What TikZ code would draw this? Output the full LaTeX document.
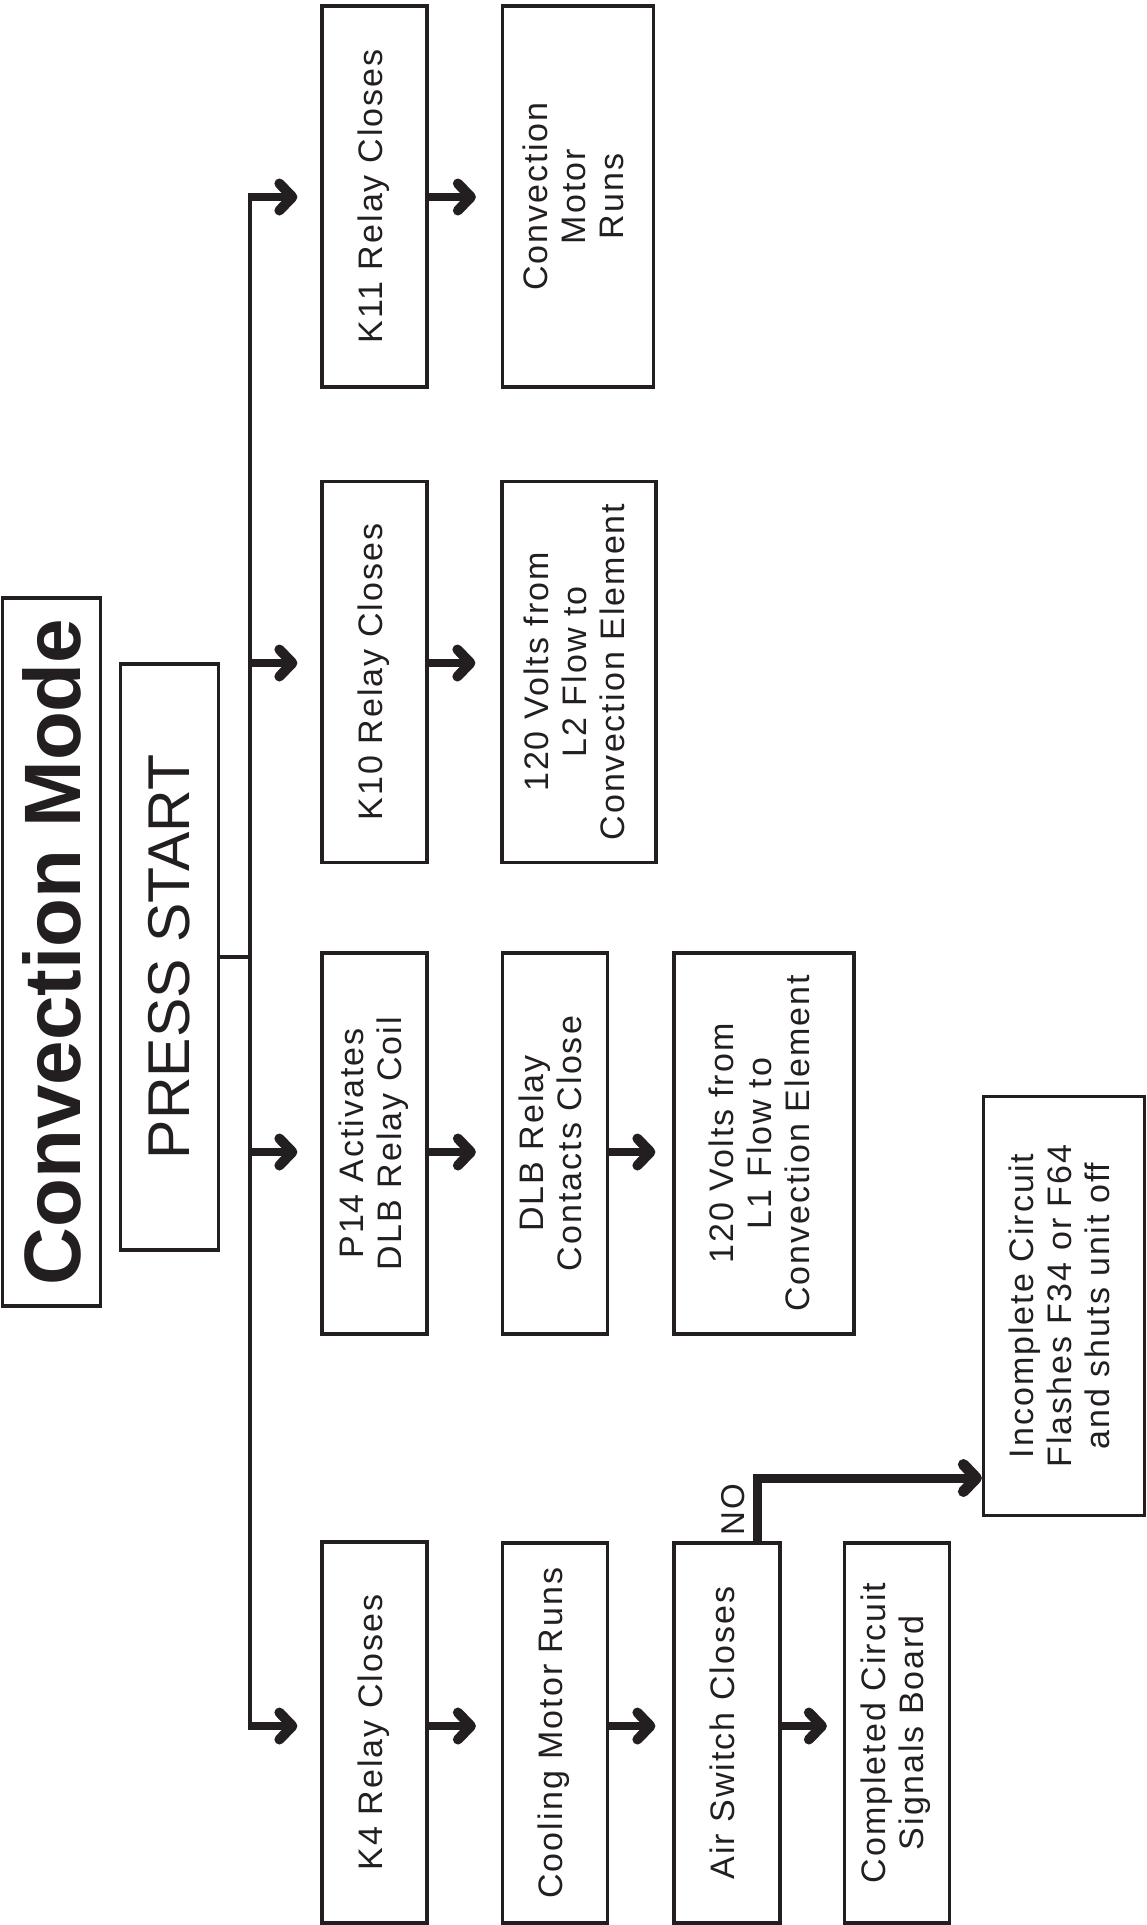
\documentclass[tikz,border=0pt]{standalone}
\usepackage{fontspec}
\setmainfont{Liberation Sans}[LetterSpace=6]
\newfontfamily\plainfont{Liberation Sans}
\usetikzlibrary{arrows.meta}
\definecolor{ink}{HTML}{231F20}
\newcommand\rottext[1]{\rotatebox{90}{\begin{tabular}{@{}c@{}}#1\end{tabular}}}
\tikzset{
  box/.style={draw=ink, line width=3.2pt, inner sep=0pt, text=ink,
    font=\fontsize{34}{38}\selectfont},
  arr/.style={draw=ink, line width=8pt, -{Straight Barb[length=13pt,width=27pt,line width=2pt 1,round]}},
  trunk/.style={draw=ink, line width=4pt}
}
\begin{document}
\begin{tikzpicture}[x=1pt,y=-1pt]
\useasboundingbox (0,0) rectangle (1146,1925);
% title and start
\node[box, minimum width=98pt, minimum height=708pt] (title) at (51.6,952)
  {\rotatebox{90}{\plainfont\bfseries\fontsize{80}{90}\selectfont Convection Mode}};
\node[box, minimum width=98pt, minimum height=586pt] (press) at (169.5,957)
  {\rotatebox{90}{\plainfont\fontsize{59}{66}\selectfont PRESS START}};
% column 1
\node[box, minimum width=105pt, minimum height=381pt] (k11) at (374.5,196.5) {\rottext{K11 Relay Closes}};
\node[box, minimum width=105pt, minimum height=381pt] (k10) at (374.5,672) {\rottext{K10 Relay Closes}};
\node[box, minimum width=105pt, minimum height=381pt] (p14) at (374.5,1143.5) {\rottext{P14 Activates\\DLB Relay Coil}};
\node[box, minimum width=105pt, minimum height=381pt] (k4) at (374.5,1732.5) {\rottext{K4 Relay Closes}};
% column 2
\node[box, minimum width=151pt, minimum height=381pt] (cmr) at (578,196.5) {\rottext{Convection\\Motor\\Runs}};
\node[box, minimum width=154pt, minimum height=381pt] (l2) at (579,672) {\rottext{120 Volts from\\L2 Flow to\\Convection Element}};
\node[box, minimum width=105pt, minimum height=381pt] (dlb) at (555,1143.5) {\rottext{DLB Relay\\Contacts Close}};
\node[box, minimum width=105pt, minimum height=380pt] (cool) at (555,1733) {\rottext{Cooling Motor Runs}};
% column 3
\node[box, minimum width=180pt, minimum height=381pt] (l1) at (764,1143.5) {\rottext{120 Volts from\\L1 Flow to\\Convection Element}};
\node[box, minimum width=106pt, minimum height=380pt] (air) at (727,1733) {\rottext{Air Switch Closes}};
% column 4
\node[box, minimum width=105pt, minimum height=380pt] (comp) at (897,1733) {\rottext{Completed Circuit\\Signals Board}};
\node[box, minimum width=161pt, minimum height=419pt] (inc) at (1064,1306) {\rottext{Incomplete Circuit\\Flashes F34 or F64\\and shuts unit off}};
% trunk
\coordinate (j) at (250,957);
\coordinate (a1) at (250,197);
\coordinate (a2) at (250,663);
\coordinate (a3) at (250,1152);
\coordinate (a4) at (250,1726);
\draw[trunk] (press.east |- j) -- (j);
\draw[trunk] (a1) -- (a4);
\draw[arr, shorten >=23pt] ([xshift=-2pt]a1) -- (k11.west |- a1);
\draw[arr, shorten >=23pt] (a2) -- (k10.west |- a2);
\draw[arr, shorten >=23pt] (a3) -- (p14.west |- a3);
\draw[arr, shorten >=23pt] ([xshift=-2pt]a4) -- (k4.west |- a4);
% row arrows
\draw[arr, shorten >=25pt] (k11.east |- a1) -- (cmr.west |- a1);
\draw[arr, shorten >=25pt] (k10.east |- a2) -- (l2.west |- a2);
\draw[arr, shorten >=25pt] (p14.east |- a3) -- (dlb.west |- a3);
\draw[arr, shorten >=17pt] (dlb.east |- a3) -- (l1.west |- a3);
\draw[arr, shorten >=25pt] (k4.east |- a4) -- (cool.west |- a4);
\draw[arr, shorten >=17pt] (cool.east |- a4) -- (air.west |- a4);
\draw[arr, shorten >=16pt] (air.east |- a4) -- (comp.west |- a4);
% NO branch
\coordinate (nc) at (757,1478);
\draw[arr, line width=9pt] (air.north -| nc) -- (nc) -- (inc.west |- nc);
\node[text=ink, rotate=90, font=\fontsize{33}{36}\selectfont] (no) at (733,1510) {NO};
\end{tikzpicture}
\end{document}
